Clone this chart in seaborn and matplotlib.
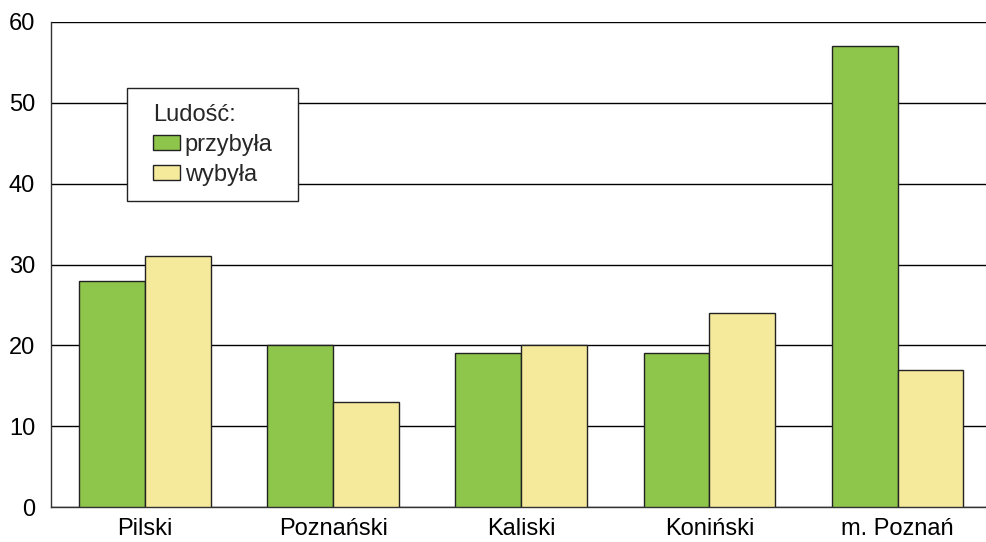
import pandas as pd
import matplotlib.pyplot as plt
import matplotlib.patches as mpatches
import seaborn as sns

# dane
regiony = ["Pilski", "Poznański", "Kaliski", "Koniński", "m. Poznań"]
przybyla = [28, 20, 19, 19, 57]
wybyla = [31, 13, 20, 24, 17]
serie = ["przybyła", "wybyła"]

df = pd.DataFrame({
    "region": regiony * 2,
    "wartosc": przybyla + wybyla,
    "seria": [serie[0]] * len(regiony) + [serie[1]] * len(regiony),
})

sns.set_style("white")
plt.rcParams['font.family'] = ['Liberation Sans', 'DejaVu Sans']

W, H = 986, 542
fig = plt.figure(figsize=(W / 100, H / 100), dpi=100)
ax = fig.add_axes([51 / W, 35 / H, 935 / W, 485 / H])

sns.barplot(data=df, x="region", y="wartosc", hue="seria",
            palette=["#8DC64B", "#F5E99B"], saturation=1, width=0.70,
            edgecolor="#222222", linewidth=1.0, ax=ax, zorder=3)

ax.set_ylim(0, 60)
ax.set_xlim(-0.5, 4.47)
ax.set_yticks(range(0, 61, 10))
ax.yaxis.grid(True, color="black", linewidth=1.0, zorder=0)
ax.set_axisbelow(True)
for s in ["top", "right"]:
    ax.spines[s].set_visible(False)
for s in ["left", "bottom"]:
    ax.spines[s].set_color("#333333")
    ax.spines[s].set_linewidth(1.0)
ax.tick_params(axis="both", length=0, labelsize=17, colors="black")
ax.tick_params(axis="y", pad=11.5)
ax.tick_params(axis="x", pad=8)
ax.set_xlabel("")
ax.set_ylabel("")

# ramka legendy rysowana osobno (wiekszy margines niz w matplotlib)
ramka = mpatches.Rectangle((127 / W, 1 - 201 / H), 171 / W, 113 / H,
                           transform=fig.transFigure, facecolor="white",
                           edgecolor="#222222", linewidth=1.0, zorder=4)
ax.add_patch(ramka)

leg = ax.legend(title="Ludość:", loc="upper left",
                bbox_to_anchor=(153 / W, 1 - 104 / H),
                bbox_transform=fig.transFigure,
                borderaxespad=0, borderpad=0, fontsize=17, title_fontsize=17,
                frameon=False, handlelength=1.15, handleheight=0.63,
                handletextpad=0.2, labelspacing=0.33)
leg._legend_box.align = "left"
leg.set_zorder(5)

fig.savefig("out.png", dpi=100)
